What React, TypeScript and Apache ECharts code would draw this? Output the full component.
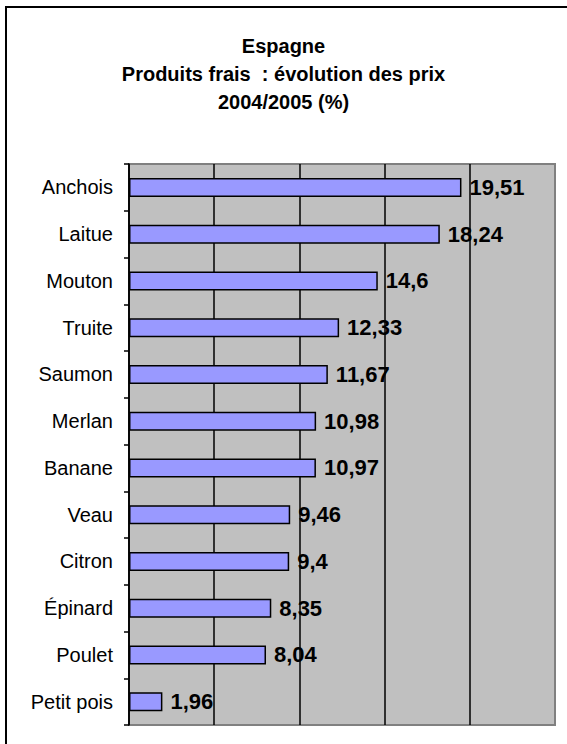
import React, { useEffect, useRef } from "react";
import * as echarts from "echarts";

const titleLines = ["Espagne", "Produits frais  : évolution des prix", "2004/2005 (%)"];
const categories = ["Anchois", "Laitue", "Mouton", "Truite", "Saumon", "Merlan", "Banane", "Veau", "Citron", "Épinard", "Poulet", "Petit pois"];
const values = [19.51, 18.24, 14.6, 12.33, 11.67, 10.98, 10.97, 9.46, 9.4, 8.35, 8.04, 1.96];
const axisMin = 0;
const axisMax = 25;
const axisStep = 5;

const FONT = "'Liberation Sans', Arial, sans-serif";

export default function App() {
  const ref = useRef<HTMLDivElement>(null);
  useEffect(() => {
    document.body.style.margin = "0";
    document.body.style.overflow = "hidden";
    const chart = echarts.init(ref.current!, null, { renderer: "svg", width: 567, height: 744 });
    chart.setOption({
      animation: false,
      backgroundColor: "#ffffff",
      title: {
        text: titleLines.join("\n"),
        left: "center",
        top: 27,
        textStyle: { fontFamily: FONT, fontSize: 20, fontWeight: "bold", color: "#000", lineHeight: 28 },
      },
      graphic: [
        {
          type: "rect",
          shape: { x: 6, y: 7, width: 620, height: 800 },
          style: { fill: "none", stroke: "#000", lineWidth: 2 },
          z: 100,
        },
      ],
      grid: {
        left: 129,
        right: 12,
        top: 164,
        bottom: 19,
        show: true,
        backgroundColor: "#C0C0C0",
        borderColor: "#808080",
        borderWidth: 2,
      },
      xAxis: {
        type: "value",
        min: axisMin,
        max: axisMax,
        interval: axisStep,
        axisLine: { show: false },
        axisTick: { show: false },
        axisLabel: { show: false },
        splitLine: {
          show: true,
          lineStyle: { color: ["#000", "#000", "#000", "#000", "#000", "#808080"], width: 1.5 },
        },
      },
      yAxis: {
        type: "category",
        data: categories,
        inverse: true,
        axisLine: { show: true, lineStyle: { color: "#000", width: 1.5 } },
        axisTick: { show: true, length: 5, lineStyle: { color: "#000", width: 1.5 } },
        axisLabel: { fontFamily: FONT, fontSize: 20, color: "#000", margin: 16 },
      },
      series: [
        {
          type: "bar",
          data: values,
          barWidth: 19,
          itemStyle: { color: "#9999FF", borderColor: "#000", borderWidth: 1.5 },
          label: {
            show: true,
            position: "right",
            distance: 8,
            fontFamily: FONT,
            fontSize: 22,
            fontWeight: "bold",
            color: "#000",
            formatter: (p: any) => String(p.value).replace(".", ","),
          },
        },
      ],
    });
    return () => chart.dispose();
  }, []);
  return <div ref={ref} style={{ width: 567, height: 744 }} />;
}
